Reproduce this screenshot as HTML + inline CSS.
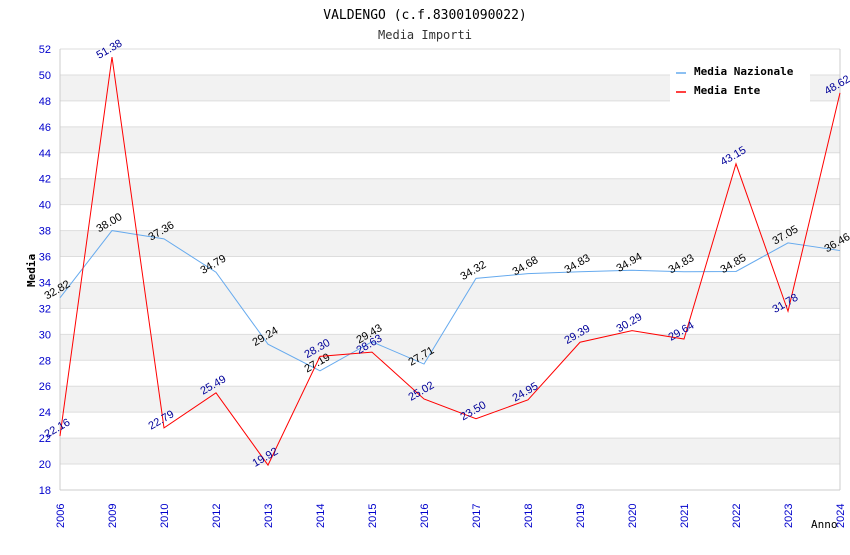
<!DOCTYPE html>
<html><head><meta charset="utf-8"><style>
body{margin:0;background:#fff}
svg text{font-family:"DejaVu Sans Mono","Liberation Mono",monospace}
svg text.s{font-family:"Liberation Sans","DejaVu Sans",sans-serif}
</style></head><body>
<svg id="c" width="850" height="550" xmlns="http://www.w3.org/2000/svg"></svg>
<script>
const categories=["2006","2009","2010","2012","2013","2014","2015","2016","2017","2018","2019","2020","2021","2022","2023","2024"];
const nazionale=[32.82,38.00,37.36,34.79,29.24,27.19,29.43,27.71,34.32,34.68,34.83,34.94,34.83,34.85,37.05,36.46];
const ente=[22.16,51.38,22.79,25.49,19.92,28.30,28.63,25.02,23.50,24.95,29.39,30.29,29.64,43.15,31.78,48.62];
const yTicks=[18,20,22,24,26,28,30,32,34,36,38,40,42,44,46,48,50,52];
const svg=document.getElementById('c');const NS='http://www.w3.org/2000/svg';
const L=60,R=840,T=49,B=490,yMin=18,yMax=52;
const x=i=>L+i*(R-L)/(categories.length-1);
const y=v=>B-(v-yMin)/(yMax-yMin)*(B-T);
function el(t,a,txt){const e=document.createElementNS(NS,t);for(const k in a)e.setAttribute(k,a[k]);if(txt!=null)e.textContent=txt;svg.appendChild(e);return e;}
for(let i=0;i<yTicks.length-1;i++){
 const top=yTicks[yTicks.length-1-i],bot=top-2;
 const r=el('rect',{x:L,y:y(top),width:R-L,height:y(bot)-y(top),fill:i%2?'#f2f2f2':'#fff'});
 
 
}
yTicks.forEach(v=>{
 const g=el('line',{x1:L,x2:R,y1:y(v),y2:y(v),stroke:'#ddd','stroke-width':1});
 
 
 const t=el('text',{class:'s',x:L-9,y:y(v)+4,'text-anchor':'end','font-size':11,fill:'#0000cc'},v);
 
 
});
el('line',{x1:L,x2:L,y1:T,y2:B,stroke:'#ccc'});
el('line',{x1:R,x2:R,y1:T,y2:B,stroke:'#ccc'});
el('line',{x1:L,x2:R,y1:B,y2:B,stroke:'#ccc'});
categories.forEach((c,i)=>{
 const t=el('text',{class:'s',transform:`translate(${x(i)+4},${B+38}) rotate(-90)`,'font-size':11,fill:'#0000cc'},c);
 
 
});
function series(data,color,labelColor,name){
 const p=el('polyline',{points:data.map((v,i)=>x(i)+','+y(v)).join(' '),fill:'none',stroke:color,'stroke-width':1});
 
 
 data.forEach((v,i)=>{
  const t=el('text',{class:'s',transform:`translate(${x(i)-13},${y(v)+2}) rotate(-30)`,'font-size':11,fill:labelColor},v.toFixed(2));
  
  
 });
}
series(nazionale,'#66aaee','#000','media-nazionale');
series(ente,'#ff0000','#000099','media-ente');
const t1=el('text',{x:425,y:19,'text-anchor':'middle','font-size':13,fill:'#000'},'VALDENGO (c.f.83001090022)');

const t2=el('text',{x:425,y:39,'text-anchor':'middle','font-size':12,fill:'#333'},'Media Importi');

const ya=el('text',{transform:'translate(35,287) rotate(-90)','font-size':11,'font-weight':'bold',fill:'#000'},'Media');

const xa=el('text',{x:811,y:528,'font-size':11,fill:'#000'},'Anno');

el('rect',{x:670,y:60,width:140,height:42,fill:'#fff'});
[['Media Nazionale','#66aaee',72],['Media Ente','#ff0000',91]].forEach(([n,c,yy])=>{
 const l=el('line',{x1:676,x2:686,y1:yy+1,y2:yy+1,stroke:c,'stroke-width':1.5});
 
 const t=el('text',{x:694,y:yy+3,'font-size':11,'font-weight':'bold',fill:'#000'},n);
 
});
</script>
</body></html>
